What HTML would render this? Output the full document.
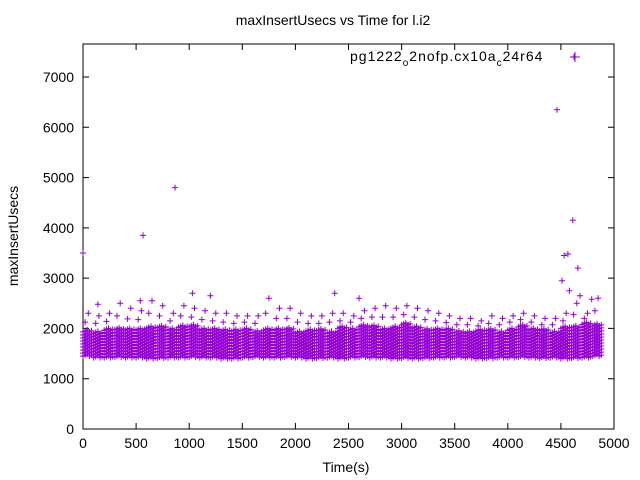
<!DOCTYPE html>
<html><head><meta charset="utf-8"><style>
html,body{margin:0;padding:0;background:#fff;}
svg{display:block;font-family:"Liberation Sans",sans-serif;}
</style></head><body>
<svg id="chart" width="640" height="480">
<text x="333" y="25" font-size="14" text-anchor="middle">maxInsertUsecs vs Time for l.i2</text>
<text x="346" y="472" font-size="14" text-anchor="middle">Time(s)</text>
<text transform="translate(18,236) rotate(-90)" font-size="14" text-anchor="middle">maxInsertUsecs</text>
<rect x="83" y="44" width="531" height="385" fill="none" stroke="#000" stroke-width="1"/>
<g id="axes"></g>
<g id="marks"></g>
<g>
<text x="350" y="61" font-size="14" letter-spacing="1">pg1222<tspan font-size="10" dy="5">o</tspan><tspan dy="-5">2nofp.cx10a</tspan><tspan font-size="10" dy="5">c</tspan><tspan dy="-5">24r64</tspan></text>
<path d="M570 57h10M575 52v10" stroke="#9400d3" stroke-width="1"/>
</g>
</svg>
<script>
const xTicks=[0,500,1000,1500,2000,2500,3000,3500,4000,4500,5000];
const yTicks=[0,1000,2000,3000,4000,5000,6000,7000];
const bucketTimes=[0,100,200,300,400,500,600,700,800,900,1000,1100,1200,1300,1400,1500,1600,1700,1800,1900,2000,2100,2200,2300,2400,2500,2600,2700,2800,2900,3000,3100,3200,3300,3400,3500,3600,3700,3800,3900,4000,4100,4200,4300,4400,4500,4600,4700,4800];
const bandLow=[1450,1420,1420,1430,1420,1420,1400,1410,1420,1420,1430,1420,1420,1400,1400,1420,1430,1420,1420,1430,1420,1400,1410,1420,1400,1420,1430,1420,1420,1400,1410,1400,1410,1420,1420,1430,1420,1400,1410,1420,1420,1430,1420,1410,1420,1400,1410,1420,1450];
const bandHigh=[1950,1950,1980,2000,1980,2000,2050,2050,2000,2050,2050,2000,2000,1950,1950,2000,1950,2000,2000,2000,1950,1950,1950,1950,2000,2000,2050,2050,2000,2050,2100,2050,2000,2000,1980,1950,1950,1950,1950,1950,2000,2050,2000,1950,1950,2000,2050,2100,2100];
const bandPeak=[2300,2250,2300,2500,2400,2350,2550,2450,2300,2450,2400,2350,2300,2300,2250,2250,2250,2600,2400,2400,2300,2250,2250,2300,2300,2250,2350,2400,2450,2400,2450,2400,2350,2300,2250,2200,2200,2150,2250,2200,2250,2300,2250,2200,2200,2300,2500,2300,2600];
const outTimes=[0,565,866,4463,4623,4612,4566,4530,4510,4580,4660,4680,540,1030,1200,2600,2370,4790,140];
const outValues=[3500,3850,4800,6350,7400,4150,3480,3450,2950,2750,3200,2650,2550,2700,2650,2600,2700,2580,2480];
const X=t=>83+t*531/5000, Y=v=>429-v*352/7000;
const NS='http://www.w3.org/2000/svg';
const axes=document.getElementById('axes'), marks=document.getElementById('marks');
xTicks.forEach(t=>{
 const l=document.createElementNS(NS,'path');
 l.setAttribute('d',`M${X(t)} 429v-6M${X(t)} 44v6`);l.setAttribute('stroke','#000');
 
 
 axes.appendChild(l);
 const s=document.createElementNS(NS,'text');
 s.setAttribute('x',X(t));s.setAttribute('y',448);s.setAttribute('font-size','14');s.setAttribute('text-anchor','middle');
 s.textContent=t;
 
 
 axes.appendChild(s);
});
yTicks.forEach(v=>{
 const l=document.createElementNS(NS,'path');
 l.setAttribute('d',`M83 ${Y(v)}h6M614 ${Y(v)}h-6`);l.setAttribute('stroke','#000');
 
 
 axes.appendChild(l);
 const s=document.createElementNS(NS,'text');
 s.setAttribute('x',74);s.setAttribute('y',Y(v)+5);s.setAttribute('font-size','14');s.setAttribute('text-anchor','end');
 s.textContent=v;
 
 
 axes.appendChild(s);
});
let d='';
const cross=(x,y)=>{d+=`M${(x-3).toFixed(1)} ${y.toFixed(1)}h6M${x.toFixed(1)} ${(y-3).toFixed(1)}v6`;};
bucketTimes.forEach((t,i)=>{
 let k=0;
 for(let dt=0;dt<100;dt+=20,k++){
  for(let v=bandLow[i];v<=bandHigh[i];v+=60){cross(X(t+dt),Y(v+(k%3)*20));}
 }
 cross(X(t+50),Y(bandPeak[i]));
 cross(X(t+20),Y((bandPeak[i]+bandHigh[i])/2));
});
outTimes.forEach((t,i)=>cross(X(t),Y(outValues[i])));
const p=document.createElementNS(NS,'path');
p.setAttribute('d',d);p.setAttribute('stroke','#9400d3');p.setAttribute('stroke-width','1');p.setAttribute('fill','none');


marks.appendChild(p);
</script>
</body></html>
